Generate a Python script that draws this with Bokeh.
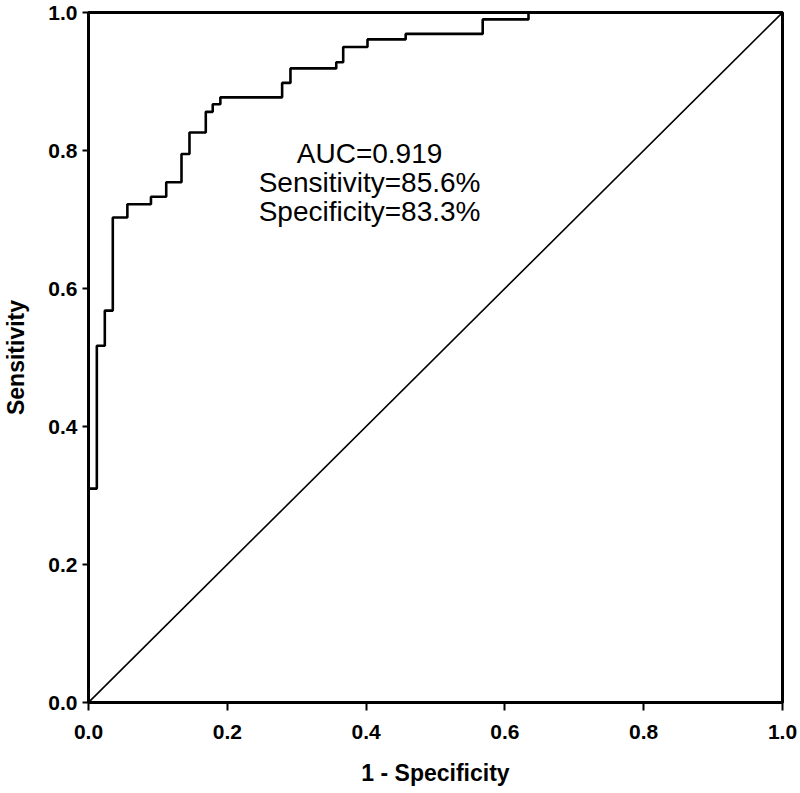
from bokeh.plotting import figure
from bokeh.models import Range1d, FixedTicker
from bokeh.embed import file_html
from bokeh.resources import INLINE
from bokeh.core.properties import value

# ROC curve corner points (1 - specificity, sensitivity)
fpr = [0.0, 0.0, 0.012, 0.0235, 0.035, 0.056, 0.090, 0.112, 0.134, 0.1455,
       0.169, 0.179, 0.190, 0.279, 0.291, 0.357, 0.367, 0.402, 0.457, 0.568,
       0.634, 1.0]
tpr = [0.0, 0.31, 0.517, 0.568, 0.703, 0.722, 0.733, 0.754, 0.795, 0.826,
       0.856, 0.867, 0.877, 0.898, 0.919, 0.928, 0.950, 0.961, 0.969, 0.990,
       1.0, 1.0]

# reference diagonal
diag_x = [0.0, 1.0]
diag_y = [0.0, 1.0]

ticks = [0.0, 0.2, 0.4, 0.6, 0.8, 1.0]
tick_labels = ["0.0", "0.2", "0.4", "0.6", "0.8", "1.0"]

anno_lines = ["AUC=0.919", "Sensitivity=85.6%", "Specificity=83.3%"]

FONT = "Liberation Sans"

p = figure(width=800, height=793, output_backend="svg", toolbar_location=None,
           x_range=Range1d(0, 1), y_range=Range1d(0, 1),
           min_border_left=88, min_border_right=18, min_border_top=12,
           min_border_bottom=91)

p.background_fill_color = "white"
p.border_fill_color = "white"
p.outline_line_color = "black"
p.outline_line_width = 3
p.grid.visible = False

# curve and diagonal
p.line(diag_x, diag_y, line_color="black", line_width=1.6)
p.step(fpr, tpr, mode="after", line_color="black", line_width=2.6)

# annotation text
anno_x = 0.405
anno_y0 = 0.795
anno_dy = 0.0415
p.text(x=[anno_x] * len(anno_lines),
       y=[anno_y0 - i * anno_dy for i in range(len(anno_lines))],
       text=anno_lines, text_align="center", text_baseline="alphabetic",
       text_font=value(FONT), text_font_size="28px", text_color="black")

for ax in (p.xaxis[0], p.yaxis[0]):
    ax.ticker = FixedTicker(ticks=ticks)
    ax.major_label_overrides = {t: l for t, l in zip(ticks, tick_labels)}
    ax.minor_tick_line_color = None
    ax.axis_line_color = "black"
    ax.axis_line_width = 2
    ax.major_tick_line_color = "black"
    ax.major_tick_line_width = 2
    ax.major_tick_in = 0
    ax.major_label_text_font = FONT
    ax.major_label_text_font_style = "bold"
    ax.major_label_text_font_size = "21px"
    ax.major_label_text_color = "black"
    ax.axis_label_text_font = FONT
    ax.axis_label_text_font_style = "bold"
    ax.axis_label_text_font_size = "23px"
    ax.axis_label_text_color = "black"

p.xaxis.axis_label = "1 - Specificity"
p.yaxis.axis_label = "Sensitivity"

p.xaxis.major_tick_out = 8
p.xaxis.major_label_standoff = 14
p.xaxis.axis_label_standoff = 18

p.yaxis.major_tick_out = 6
p.yaxis.major_label_standoff = 5
p.yaxis.axis_label_standoff = 16

open("out.html", "w").write(file_html(p, INLINE))
